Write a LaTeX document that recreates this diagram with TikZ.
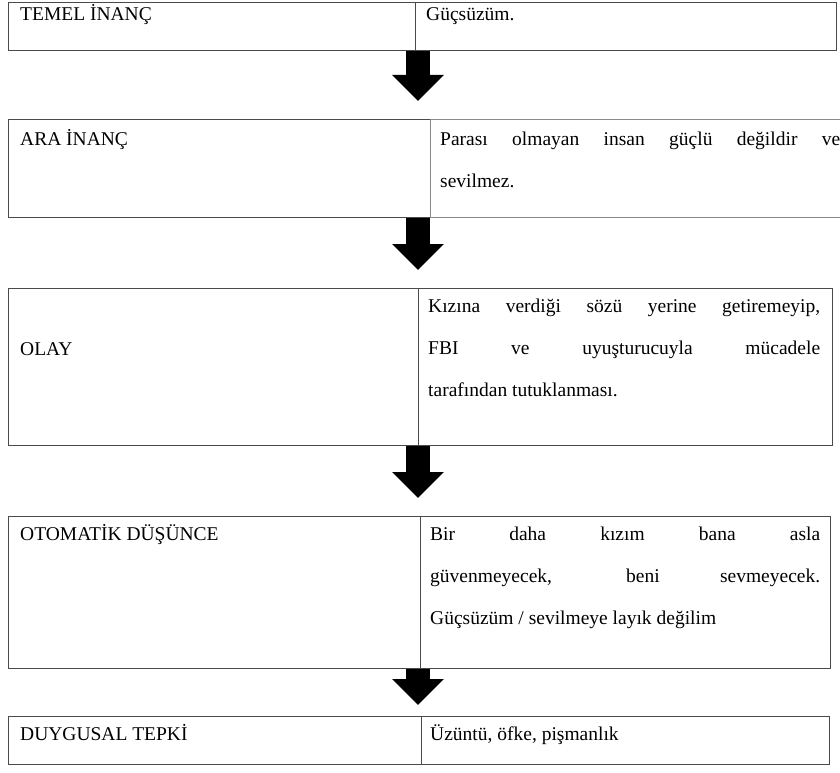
\documentclass[tikz,border=0pt]{standalone}
\usepackage{fontspec}
\setmainfont{Liberation Serif}
\usetikzlibrary{arrows.meta}
\definecolor{framegray}{HTML}{4A4A4A}
\definecolor{rulegray}{HTML}{8A8A8A}

\begin{document}
\begin{tikzpicture}[x=1pt, y=-1pt,
  cell/.style={draw=framegray, line width=1.2pt, inner sep=0pt, anchor=north west},
  txt/.style={inner sep=0pt, anchor=base west, font=\fontsize{19.5}{42}\selectfont},
  bigarrow/.style={line width=24pt, -{Triangle[width=50pt, length=26pt]}, shorten >=18pt}]
\useasboundingbox (0,0) rectangle (840,773);
\coordinate (axis) at (418,0);

% temel inanc
\node[cell, minimum width=407pt, minimum height=48pt] (lab1) at (8,2) {};
\node[cell, minimum width=421pt, minimum height=48pt] (val1) at (415,2) {};
\node[txt] (t1) at (20,21) {TEMEL İNANÇ};
\node[txt] (d1) at (426,21) {Güçsüzüm.};

% ara inanc
\node[cell, minimum width=422pt, minimum height=98pt] (lab2) at (8,119) {};
\node[cell, draw=rulegray, minimum width=420pt, minimum height=98pt] (val2) at (430,119) {};
\node[txt] (t2) at (20,145) {ARA İNANÇ};
\node[txt, text width=400pt, align=justify] (d2) at (440,145) {Parası olmayan insan güçlü değildir ve\linebreak sevilmez.};

% olay
\node[cell, minimum width=410pt, minimum height=157pt] (lab3) at (8,288) {};
\node[cell, minimum width=414pt, minimum height=157pt] (val3) at (418,288) {};
\node[txt] (t3) at (20,355) {OLAY};
\node[txt, text width=392pt, align=justify] (d3) at (428,312) {Kızına verdiği sözü yerine getiremeyip,\linebreak FBI ve uyuşturucuyla mücadele\linebreak tarafından tutuklanması.};

% otomatik dusunce
\node[cell, minimum width=412pt, minimum height=152pt] (lab4) at (8,516) {};
\node[cell, minimum width=410pt, minimum height=152pt] (val4) at (420,516) {};
\node[txt] (t4) at (20,540) {OTOMATİK DÜŞÜNCE};
\node[txt, text width=390pt, align=justify] (d4) at (430,540) {Bir daha kızım bana asla\linebreak güvenmeyecek, beni sevmeyecek.\linebreak Güçsüzüm / sevilmeye layık değilim};

% duygusal tepki
\node[cell, minimum width=413pt, minimum height=48pt] (lab5) at (8,716) {};
\node[cell, minimum width=408pt, minimum height=48pt] (val5) at (421,716) {};
\node[txt] (t5) at (20,740) {DUYGUSAL TEPKİ};
\node[txt] (d5) at (430,740) {Üzüntü, öfke, pişmanlık};

\draw[bigarrow] (lab1.south -| axis) -- (lab2.north -| axis);
\draw[bigarrow] (lab2.south -| axis) -- (lab3.north -| axis);
\draw[bigarrow] (lab3.south -| axis) -- (lab4.north -| axis);
\draw[bigarrow, shorten >=11pt] (lab4.south -| axis) -- (lab5.north -| axis);
\end{tikzpicture}
\end{document}
